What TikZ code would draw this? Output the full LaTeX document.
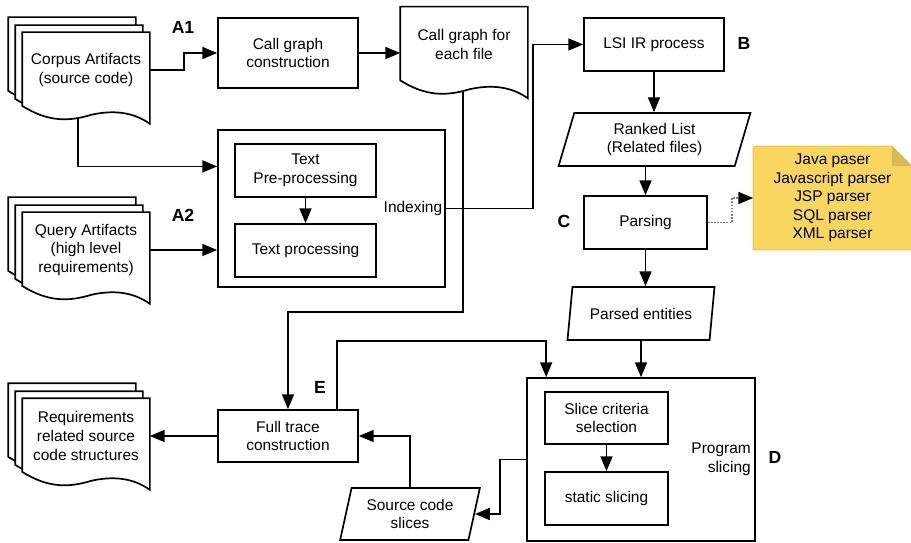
\documentclass[tikz,border=0pt]{standalone}
\usepackage{fontspec}
\setmainfont{Liberation Sans}
\usetikzlibrary{arrows.meta,calc,shapes.geometric,backgrounds}

\definecolor{notefill}{HTML}{F8D660}
\definecolor{notefold}{HTML}{D8B95A}
\definecolor{noteline}{HTML}{EBC445}

\newcommand{\pxu}{0.025cm}

\tikzset{
  procbox/.style 2 args={draw, minimum width=#1*\pxu, minimum height=#2*\pxu,
    align=center, inner sep=2pt},
  iobox/.style 2 args={trapezium, trapezium left angle=75, trapezium right angle=105,
    trapezium stretches=true, draw, minimum width=#1*\pxu, minimum height=#2*\pxu,
    align=center, inner sep=1pt},
  docnode/.style={minimum width=126*\pxu, minimum height=74*\pxu, align=center, inner sep=1pt},
  docline/.style={draw=black, fill=white, line width=1.2pt},
  tag/.style={font=\fontsize{12.5}{15}\selectfont\bfseries},
  notebox/.style={minimum width=157*\pxu, minimum height=102*\pxu, align=center},
}

% document sheet with a wavy lower edge
\newcommand{\docsheet}[1]{%
  \draw[docline] (#1.north west) -- (#1.north east) -- ($(#1.south east)+(0,16)$)
    .. controls ($(#1.south west)!0.87!(#1.south east)+(0,4)$)
            and ($(#1.south west)!0.71!(#1.south east)+(0,2)$)
    .. ($(#1.south west)!0.54!(#1.south east)+(0,7)$)
    .. controls ($(#1.south west)!0.36!(#1.south east)+(0,14)$)
            and ($(#1.south west)!0.2!(#1.south east)+(0,14)$)
    .. ($(#1.south west)+(0,-2)$) -- cycle;}

\begin{document}
\begin{tikzpicture}[x=0.025cm,y=-0.025cm,>={Triangle[length=10.5pt,width=8.5pt]},
  font=\fontsize{11}{13.2}\selectfont, line width=1.2pt]
  \useasboundingbox (0,0) rectangle (911,543);

  \node[docnode] (corpusb) at (72,55) {};
  \node[docnode] (corpusm) at (79,63) {};
  \node[docnode] (corpus) at (86,70) {Corpus Artifacts\\(source code)};
  \node[docnode] (queryb) at (72,235) {};
  \node[docnode] (querym) at (79,243) {};
  \node[docnode] (query) at (86,250) {Query Artifacts\\(high level\\requirements)};
  \node[docnode] (reqsb) at (72,421) {};
  \node[docnode] (reqsm) at (79,429) {};
  \node[docnode] (reqs) at (86,436) {Requirements\\related source\\code structures};
  \node[docnode] (cgfile) at (464,44.5) {Call graph for\\each file};

  \node[procbox={140}{70}] (callgraph) at (288,53) {Call graph\\construction};
  \node[procbox={140}{53}] (lsi) at (654,44.5) {LSI IR process};
  \node[procbox={227}{157}] (indexing) at (331.5,208.5) {};
  \node[anchor=east, inner sep=2pt] (idxlabel) at (indexing.east) {Indexing};
  \node[procbox={141}{53}] (textpre) at (305.5,170.5) {Text\\Pre-processing};
  \node[procbox={141}{53}] (textproc) at (305.5,250.5) {Text processing};
  \node[iobox={193}{53}] (ranked) at (654.5,139.5) {Ranked List\\(Related files)};
  \node[procbox={123}{53}] (parsing) at (645.5,222.5) {Parsing};
  \node[notebox] (note) at (832.5,198) {Java paser\\Javascript parser\\JSP parser\\SQL parser\\XML parser};
  \node[iobox={148}{53}] (parsed) at (641,313.5) {Parsed entities};
  \node[procbox={228}{163}] (progslicing) at (641,459.5) {};
  \node[anchor=east, align=right, inner sep=3pt] (pslabel) at (progslicing.east) {Program\\slicing};
  \node[procbox={123}{52}] (slicecrit) at (606.5,418) {Slice criteria\\selection};
  \node[procbox={123}{53}] (static) at (606.5,498.5) {static slicing};
  \node[procbox={140}{52}] (fulltrace) at (288,436) {Full trace\\construction};
  \node[iobox={140}{52}] (slices) at (410,514) {Source code\\slices};

  \node[tag] (tagA1) at (183,27) {A1};
  \node[tag] (tagA2) at (183,215) {A2};
  \node[tag] (tagB) at (744,43) {B};
  \node[tag] (tagC) at (564,221) {C};
  \node[tag] (tagD) at (775,457) {D};
  \node[tag] (tagE) at (320,387) {E};

  \begin{scope}[on background layer]
    \docsheet{corpusb} \docsheet{corpusm} \docsheet{corpus}
    \docsheet{queryb} \docsheet{querym} \docsheet{query}
    \docsheet{reqsb} \docsheet{reqsm} \docsheet{reqs}
    \docsheet{cgfile}
    \filldraw[fill=notefill, draw=noteline, line width=0.8pt] (note.north west)
      -- ($(note.north east)+(-20,0)$) -- ($(note.north east)+(0,20)$)
      -- (note.south east) -- (note.south west) -- cycle;
    \fill[notefold] ($(note.north east)+(-20,0)$) -- ($(note.north east)+(-20,20)$)
      -- ($(note.north east)+(0,20)$) -- cycle;
  \end{scope}

  \draw[->] (corpus.east) -- ++(34,0) |- (callgraph.west);
  \draw[->] (callgraph.east) -- (callgraph.east -| cgfile.west);
  \draw[->] ($(corpus.south)+(-8,10)$) |- ($(indexing.north west)!0.235!(indexing.south west)$);
  \draw[->] (query.east) -- (query.east -| indexing.west);
  \draw[->] (textpre) -- (textproc);
  \draw[->] (indexing.east) -- ++(87,0) |- (lsi.west);
  \draw[->] (lsi.south) -- (lsi.south |- ranked.north);
  \draw[->] (ranked.south -| parsing.north) -- (parsing.north);
  \draw[->] (parsing.south) -- (parsing.south |- parsed.north);
  \draw[->] (parsed.south) -- (parsed.south |- progslicing.north);
  \draw[densely dotted, gray, -{Triangle[length=10.5pt,width=8.5pt,color=black]}]
    (parsing.east) -- ++(24,0) |- (note.west);
  \draw[->] ($(cgfile.south)+(-1,10)$) |- ($(fulltrace.north)+(0,-97)$) -- (fulltrace.north);
  \draw[->] ($(fulltrace.north)+(49,0)$) -- ++(0,-68) -| ($(progslicing.north west)+(20,0)$);
  \draw[->] (fulltrace.west) -- (reqs.east);
  \draw[->] (slices.north) |- (fulltrace.east);
  \draw[->] (progslicing.west) -- ++(-26,0) |- (slices.east);
  \draw[->] (slicecrit) -- (static);
\end{tikzpicture}
\end{document}
